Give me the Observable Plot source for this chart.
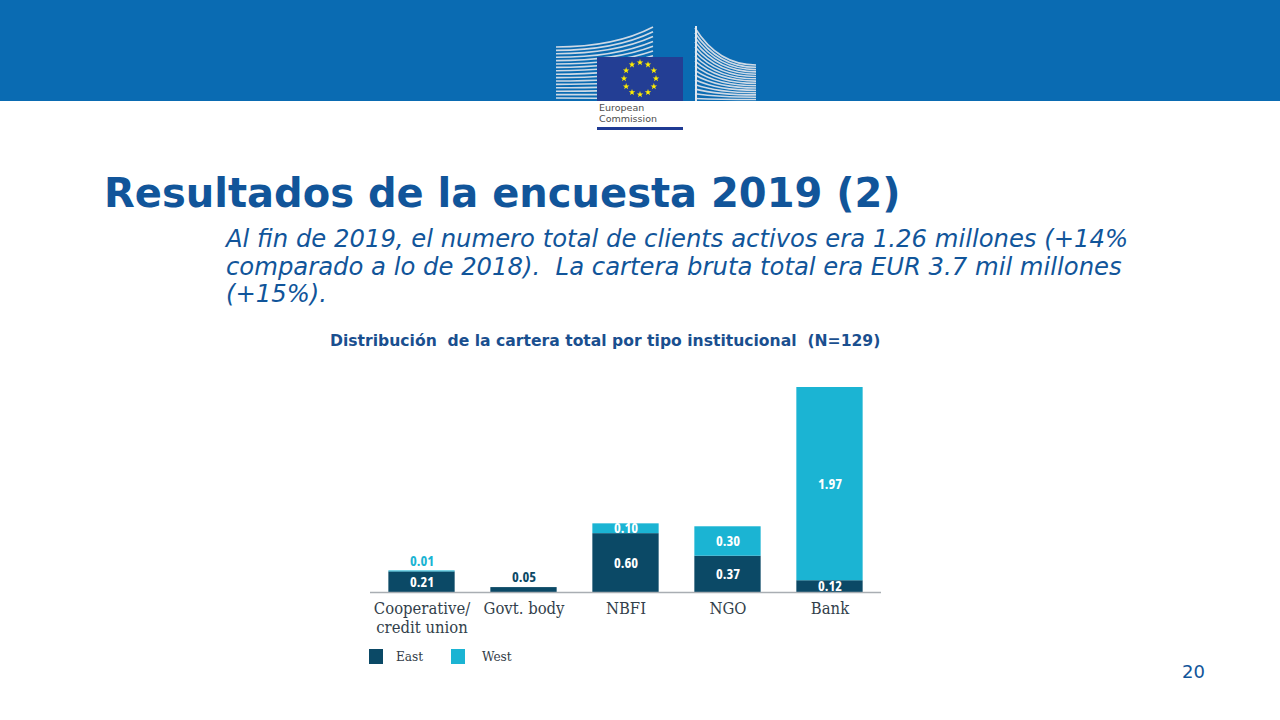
<!DOCTYPE html>
<html>
<head>
<meta charset="utf-8">
<script src="https://cdn.jsdelivr.net/npm/d3@7"></script>
<script src="https://cdn.jsdelivr.net/npm/@observablehq/plot@0.6"></script>
<style>
  html, body { margin: 0; padding: 0; background: #fff; }
  #page { position: relative; width: 1280px; height: 720px; overflow: hidden; background: #fff; }
  #band { position: absolute; left: 0; top: 0; width: 1280px; height: 101px; background: #0A6BB2; }
  #logo { position: absolute; left: 0; top: 0; }
  .ec { position: absolute; left: 599px; font-family: "DejaVu Sans", sans-serif; font-size: 9.5px; color: #4d4d4d; line-height: 10px; }
  #ecbar { position: absolute; left: 597px; top: 127px; width: 86px; height: 3px; background: #1F3A93; }
  #title { position: absolute; left: 104px; top: 173px; font-family: "DejaVu Sans", Verdana, sans-serif; font-weight: bold; font-size: 40px; line-height: 40px; color: #11559A; white-space: nowrap; }
  #sub { position: absolute; left: 226px; top: 225px; font-family: "DejaVu Sans", Verdana, sans-serif; font-style: italic; font-size: 24.3px; line-height: 27.5px; color: #11559A; white-space: nowrap; }
  #ctitle { position: absolute; left: 330px; top: 332px; font-family: "DejaVu Sans", Tahoma, sans-serif; font-weight: bold; font-size: 15.6px; line-height: 18px; color: #1A4F8F; white-space: pre; }
  #chart { position: absolute; left: 370px; top: 370px; }
  #legend { position: absolute; left: 369px; top: 649px; font-family: "DejaVu Serif Condensed", "DejaVu Serif", serif; font-stretch: condensed; font-size: 13.5px; color: #333d48; }
  .sw { position: absolute; top: 0; width: 14px; height: 15px; }
  .lt { position: absolute; top: -1px; line-height: 16px; white-space: nowrap; }
  #pnum { position: absolute; left: 1182px; top: 661px; font-family: "DejaVu Sans", Verdana, sans-serif; font-size: 18px; line-height: 22px; color: #11559A; }
</style>
</head>
<body>
<div id="page">
  <div id="band"></div>
  <svg id="logo" width="1280" height="140"></svg>
  <div class="ec" style="top:103px">European</div>
  <div class="ec" style="top:114px">Commission</div>
  <div id="ecbar"></div>
  <div id="title">Resultados de la encuesta 2019 (2)</div>
  <div id="sub">Al fin de 2019, el numero total de clients activos era 1.26 millones (+14%<br>comparado a lo de 2018).&nbsp; La cartera bruta total era EUR 3.7 mil millones<br>(+15%).</div>
  <div id="ctitle">Distribución  de la cartera total por tipo institucional  (N=129)</div>
  <div id="chart"></div>
  <div id="legend"></div>
  <div id="pnum">20</div>
</div>
<script>
// ---- data ----
const categories = ["Cooperative/\ncredit union", "Govt. body", "NBFI", "NGO", "Bank"];
const east = [0.21, 0.05, 0.60, 0.37, 0.12];
const west = [0.01, 0.00, 0.10, 0.30, 1.97];
const series = ["East", "West"];
const seriesColors = ["#0B4966", "#1BB4D3"];

// ---- logo (decorative) ----
(function drawLogo() {
  const svg = d3.select("#logo");
  const g = svg.append("g").attr("fill", "none").attr("stroke", "#cfdae6").attr("stroke-width", 1.6);
  for (let i = 0; i < 16; i++) {
    const yl = 47 + i * 3.4, yr = 27 + i * 4.8;
    g.append("path").attr("d", `M556,${yl} Q615,${yl} 653,${yr}`);
  }
  for (let i = 0; i < 16; i++) {
    const yl = 28 + i * 4.7, yr = 65 + i * 2.3;
    g.append("path").attr("d", `M695,${yl} Q718,${yr} 756,${yr}`);
  }
  svg.append("rect").attr("x", 695).attr("y", 26).attr("width", 2).attr("height", 75).attr("fill", "#dfe7ef");
  svg.append("rect").attr("x", 597).attr("y", 57).attr("width", 86).attr("height", 44).attr("fill", "#233E94");
  const star = (cx, cy, r) => {
    let p = [];
    for (let k = 0; k < 10; k++) {
      const a = -Math.PI / 2 + k * Math.PI / 5, rr = k % 2 ? r * 0.4 : r;
      p.push([cx + rr * Math.cos(a), cy + rr * Math.sin(a)]);
    }
    return "M" + p.map(q => q.join(",")).join("L") + "Z";
  };
  for (let k = 0; k < 12; k++) {
    const a = k * Math.PI / 6;
    svg.append("path").attr("d", star(640 + 16 * Math.sin(a), 78.5 - 16 * Math.cos(a), 3.4)).attr("fill", "#FFED00");
  }
})();

// ---- chart ----
const rows = categories.flatMap((c, i) => [
  {cat: c, series: series[0], y1: 0, y2: east[i], v: east[i]},
  {cat: c, series: series[1], y1: east[i], y2: east[i] + west[i], v: west[i]}
]).filter(d => d.v > 0);
const small = d => d.v < 0.08;

const chart = Plot.plot({
  width: 512,
  height: 260,
  marginLeft: 0,
  marginRight: 1,
  marginTop: 17,
  marginBottom: 38,
  style: {overflow: "visible", background: "transparent"},
  x: {type: "band", domain: categories, range: [0, 511], paddingInner: 0.35, paddingOuter: 0.18, round: false, axis: null},
  y: {domain: [0, 2.09], axis: null},
  color: {domain: series, range: seriesColors},
  marks: [
    Plot.barY(rows, {x: "cat", y1: "y1", y2: "y2", fill: "series"}),
    Plot.ruleY([0], {stroke: "#a9aeb3", strokeWidth: 1.5}),
    Plot.text(rows.filter(d => !small(d)), {
      x: "cat", y: d => (d.y1 + d.y2) / 2, text: d => d.v.toFixed(2),
      fill: "white", fontFamily: "Open Sans", fontWeight: "bold", fontSize: 14.5
    }),
    Plot.text(rows.filter(small), {
      x: "cat", y: "y2", dy: -10, text: d => d.v.toFixed(2),
      fill: "series", fontFamily: "Open Sans", fontWeight: "bold", fontSize: 14.5
    }),
    Plot.text(categories, {
      x: d => d, frameAnchor: "bottom", lineAnchor: "top", dy: 8, text: d => d,
      fill: "#333f4b", fontFamily: "DejaVu Serif Condensed, DejaVu Serif, serif", fontSize: 16.5, lineHeight: 1.15
    })
  ]
});
chart.querySelectorAll("text").forEach(t => t.setAttribute("font-stretch", "condensed"));
document.getElementById("chart").appendChild(chart);

// ---- legend ----
const legend = d3.select("#legend");
const lx = [[0, 27], [82, 113]];
series.forEach((s, i) => {
  legend.append("div").attr("class", "sw").style("left", lx[i][0] + "px").style("background", seriesColors[i]);
  legend.append("div").attr("class", "lt").style("left", lx[i][1] + "px").text(s);
});
</script>
</body>
</html>
